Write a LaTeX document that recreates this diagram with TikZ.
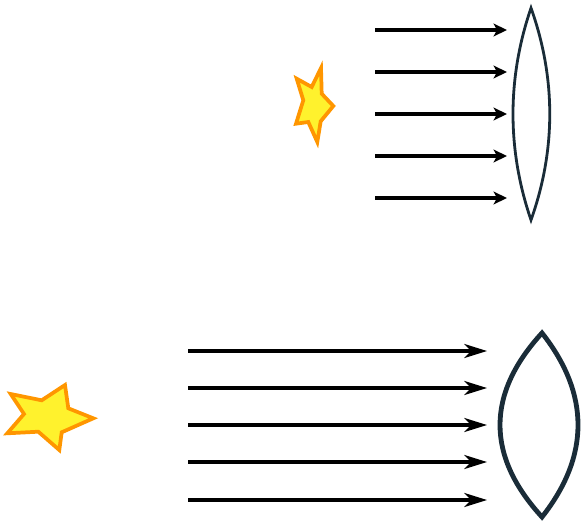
\documentclass[tikz,border=0pt]{standalone}
\usepackage{tikz}
\usetikzlibrary{arrows.meta}
\definecolor{LensSlate}{RGB}{26,44,56}
\definecolor{StarYellow}{RGB}{255,242,45}
\definecolor{StarOrange}{RGB}{255,150,0}
\tikzset{
    smallarr/.style={-{Stealth[length=10pt, width=9.5pt, inset=2.5pt]}, line width=2.3pt, black},
    bigarr/.style={-{Stealth[length=17pt, width=10.5pt, inset=5pt]}, line width=2.3pt, black},
    thinlens/.style={draw=LensSlate, line width=2.1pt, line join=miter},
    fatlens/.style={draw=LensSlate, line width=3.6pt, line join=miter},
    starshape/.style={fill=StarYellow, draw=StarOrange, line width=2.8pt, line join=miter},
}
\begin{document}
\begin{tikzpicture}[x=0.75pt, y=-0.75pt]
\useasboundingbox (0,0) rectangle (581,521);

% far star, small lens
\draw[starshape] (321,68) -- (321.7,93.7) -- (333.3,106) -- (320.7,121.3) -- (317.3,142)
    -- (308.3,122) -- (296,123.7) -- (303.3,100.3) -- (296.7,78.7) -- (311.7,87) -- cycle;
\foreach \y [count=\i] in {30,72,114,156,198} {
    \coordinate (ts\i) at (375,\y);
    \coordinate (te\i) at (507,\y);
    \draw[smallarr] (ts\i) -- (te\i);
}
\coordinate (ltop) at (531,8);
\coordinate (lbot) at (531,220);
\draw[thinlens] (ltop) .. controls (507,78) and (507,150) .. (lbot)
    .. controls (556,150) and (556,78) .. (ltop) -- cycle;

% near star, big lens
\draw[starshape] (10.7,394) -- (41.7,400.3) -- (65,385) -- (68.3,408.3) -- (93.3,418.3)
    -- (61.7,432.3) -- (59.3,450) -- (38.3,431.7) -- (7.3,433.3) -- (24,414) -- cycle;
\foreach \y [count=\i] in {351,388,425,462,500} {
    \coordinate (bs\i) at (188,\y);
    \coordinate (be\i) at (487,\y);
    \draw[bigarr] (bs\i) -- (be\i);
}
\coordinate (Ltop) at (542,333);
\coordinate (Lbot) at (542,517);
\draw[fatlens] (Ltop) .. controls (486,394) and (486,456) .. (Lbot)
    .. controls (590,456) and (590,394) .. (Ltop) -- cycle;
\end{tikzpicture}
\end{document}
